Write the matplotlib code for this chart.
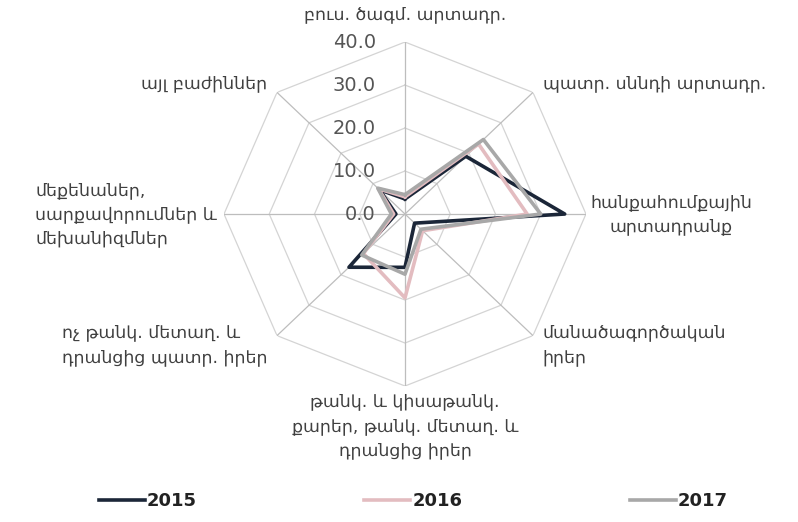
"""
Radar chart: export structure by sections, 2015-2017.
"""

import numpy as np
import matplotlib
matplotlib.use("Agg")
import matplotlib.pyplot as plt
from matplotlib.transforms import offset_copy

plt.rcParams["font.family"] = ["DejaVu Sans"]

categories = [
    "բուս. ծագմ. արտադր.",
    "պատր. սննդի արտադր.",
    "հանքահումքային\nարտադրանք",
    "մանածագործական\nիրեր",
    "թանկ. և կիսաթանկ.\nքարեր, թանկ. մետաղ. և\nդրանցից իրեր",
    "ոչ թանկ. մետաղ. և\nդրանցից պատր. իրեր",
    "մեքենաներ,\nսարքավորումներ և\nմեխանիզմներ",
    "այլ բաժիններ",
]
values_2015 = [3.5, 19.0, 35.3, 3.0, 12.4, 17.5, 2.0, 8.0]
values_2016 = [4.0, 23.0, 27.0, 5.5, 19.5, 13.0, 2.5, 8.3]
values_2017 = [4.5, 24.5, 30.0, 5.0, 14.0, 13.5, 3.0, 8.5]
series_labels = ["2015", "2016", "2017"]
ring_ticks = [0, 10, 20, 30, 40]

colors = ["#1b2638", "#e3bcc0", "#a8a8a8"]

n = len(categories)
angles = np.linspace(0, 2 * np.pi, n, endpoint=False)
closed = np.append(angles, angles[0])

fig = plt.figure(figsize=(7.98, 5.22), dpi=100)
ax = fig.add_axes([0.2807, 0.2605, 0.4536, 0.659], projection="polar")
ax.set_aspect("auto")
ax.set_theta_zero_location("N")
ax.set_theta_direction(-1)
ax.set_ylim(0, 40)
ax.grid(False)
ax.spines["polar"].set_visible(False)
ax.set_xticks([])
ax.set_yticks([])
ax.patch.set_alpha(0)

# octagonal rings and spokes
for r in ring_ticks[1:]:
    ax.plot(closed, [r] * (n + 1), color="#d4d4d4", lw=0.9, zorder=1)
for a in angles:
    ax.plot([a, a], [0, 40], color="#bdbdbd", lw=0.9, zorder=1)

# tick labels left of the top spoke
tick_tr = offset_copy(ax.transData, fig=fig, x=-29, y=0, units="dots")
for r in ring_ticks:
    ax.text(0, r, f"{r:.1f}", transform=tick_tr, ha="right", va="center",
            fontsize=14, color="#555555")

# series
for vals, lab, col in zip([values_2015, values_2016, values_2017], series_labels, colors):
    ax.plot(closed, vals + vals[:1], color=col, lw=2.6, label=lab, zorder=3)

# category labels
lab_style = dict(fontsize=12.5, color="#404040", linespacing=1.45)
pos = [
    (44.3, "center", "bottom", "center"),
    (43.0, "left", "center", "left"),
    (41.0, "left", "center", "center"),
    (43.0, "left", "center", "left"),
    (41.5, "center", "top", "center"),
    (43.0, "right", "center", "left"),
    (41.5, "right", "center", "left"),
    (43.0, "right", "center", "left"),
]
for a, txt, (r, ha, va, ma) in zip(angles, categories, pos):
    ax.text(a, r, txt, ha=ha, va=va, multialignment=ma, **lab_style)

fig.legend(loc="lower center", bbox_to_anchor=(0.518, -0.008), ncol=3, frameon=False,
           handlelength=2.55, handletextpad=0.1, columnspacing=9.3,
           prop={"size": 13, "weight": "bold"})
for t in fig.legends[0].get_texts():
    t.set_color("#222222")

plt.savefig("out.png", dpi=100)
plt.close()
